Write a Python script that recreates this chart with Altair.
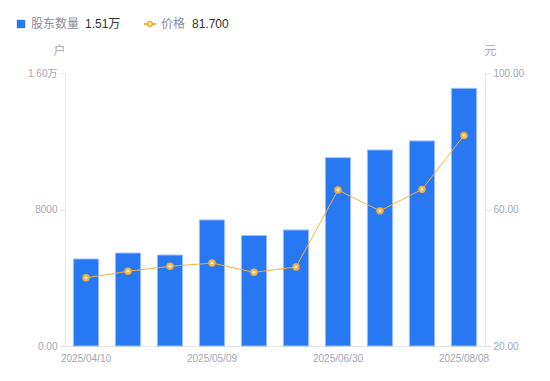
import altair as alt
import pandas as pd

dates = ["2025/04/10", "2025/04/20", "2025/04/30", "2025/05/09", "2025/05/20",
         "2025/06/10", "2025/06/30", "2025/07/10", "2025/07/20", "2025/08/08"]
holders = [5100, 5450, 5330, 7390, 6480, 6800, 11040, 11490, 12020, 15100]
prices = [40.0, 41.9, 43.35, 44.3, 41.6, 43.15, 65.7, 59.6, 65.9, 81.7]
shown_dates = ["2025/04/10", "2025/05/09", "2025/06/30", "2025/08/08"]

df = pd.DataFrame({"date": dates, "holders": holders, "price": prices})

LABEL = "#a3a6b4"
AXIS = "#e3e5ea"
BLUE = "#2878f4"
ORANGE = "#f7b13c"
FONT = "Liberation Sans, Noto Sans CJK SC"

x = alt.X("date:N", sort=dates, scale=alt.Scale(paddingInner=0.4, paddingOuter=0.2),
          axis=alt.Axis(title=None, values=shown_dates, labelAngle=0, ticks=False,
                        domainColor=AXIS, labelColor=LABEL, labelFontSize=10,
                        labelFont=FONT, labelPadding=7))

bars = alt.Chart(df).mark_bar(color=BLUE, stroke="#9cc0f9", strokeWidth=1).encode(
    x=x,
    y=alt.Y("holders:Q", scale=alt.Scale(domain=[0, 16000]),
            axis=alt.Axis(values=[0, 8000, 16000], grid=False, title="户",
                          labelExpr="datum.value == 16000 ? '1.60万' : datum.value == 0 ? '0.00' : '8000'",
                          titleAngle=0, titleX=-6, titleY=-16, titleAlign="center",
                          titleColor=LABEL, titleFontWeight="normal", titleFontSize=12,
                          titleFont=FONT, domainColor=AXIS, tickColor=AXIS, tickSize=5,
                          labelColor=LABEL, labelFontSize=10, labelFont=FONT, labelPadding=3)),
)

yp = alt.Y("price:Q", scale=alt.Scale(domain=[20, 100]),
           axis=alt.Axis(orient="right", values=[20, 60, 100], format=".2f", grid=False,
                         title="元", titleAngle=0, titleX=5, titleY=-16, titleAlign="center",
                         titleColor=LABEL, titleFontWeight="normal", titleFontSize=12,
                         titleFont=FONT, domainColor=AXIS, tickColor=AXIS, tickSize=5,
                         labelColor=LABEL, labelFontSize=10, labelFont=FONT, labelPadding=3))

line = alt.Chart(df).mark_line(color=ORANGE, strokeWidth=1).encode(x=x, y=yp)
pts = alt.Chart(df).mark_point(filled=True, color=ORANGE, size=55, opacity=1).encode(x=x, y=yp)
pts_in = alt.Chart(df).mark_point(filled=True, color="white", size=7, opacity=1).encode(x=x, y=yp)

price_layer = alt.layer(line, pts, pts_in)

# legend
leg_df = pd.DataFrame({"k": [0]})
base = alt.Chart(leg_df)
leg = alt.layer(
    base.mark_square(color=BLUE, size=70, opacity=1).encode(x=alt.value(-44), y=alt.value(-49)),
    base.mark_text(text="股东数量", align="left", baseline="middle", fontSize=12, color="#8b8e9c",
                   font=FONT).encode(x=alt.value(-34), y=alt.value(-49)),
    base.mark_text(text="1.51万", align="left", baseline="middle", fontSize=12, color="#333333",
                   font=FONT).encode(x=alt.value(20), y=alt.value(-49)),
    base.mark_rule(color=ORANGE, strokeWidth=2).encode(x=alt.value(79), x2=alt.value(91), y=alt.value(-49)),
    base.mark_point(filled=True, color=ORANGE, size=40, opacity=1).encode(x=alt.value(85), y=alt.value(-49)),
    base.mark_point(filled=True, color="white", size=6, opacity=1).encode(x=alt.value(85), y=alt.value(-49)),
    base.mark_text(text="价格", align="left", baseline="middle", fontSize=12, color="#8b8e9c",
                   font=FONT).encode(x=alt.value(96), y=alt.value(-49)),
    base.mark_text(text="81.700", align="left", baseline="middle", fontSize=12, color="#333333",
                   font=FONT).encode(x=alt.value(127), y=alt.value(-49)),
)

chart = alt.layer(bars, price_layer).resolve_scale(y="independent")
chart = alt.layer(chart, leg).properties(
    width=420, height=273,
    autosize=alt.AutoSizeParams(type="none"),
    padding={"left": 57, "top": 65, "right": 57, "bottom": 27},
).configure_view(stroke=None)

chart.save("out.html", embed_options={"renderer": "svg", "actions": False})
